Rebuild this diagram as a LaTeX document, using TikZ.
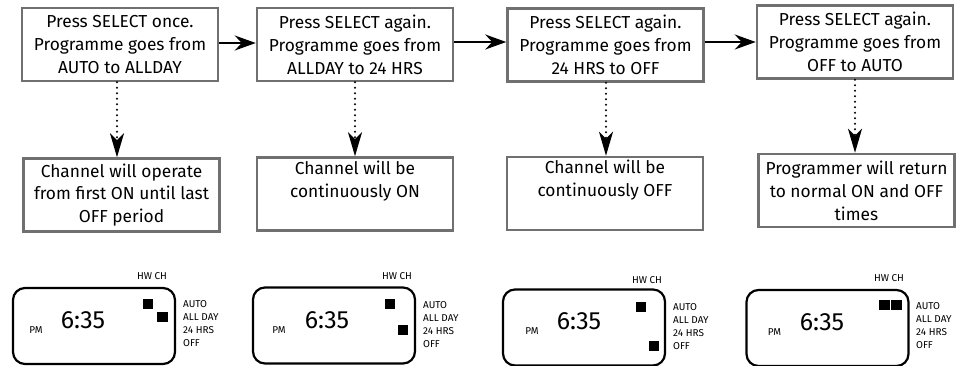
\documentclass[tikz,border=0pt]{standalone}
\usepackage{fontspec}
\setmainfont{Fira Sans}
\usetikzlibrary{arrows.meta}
\tikzset{%%
  >={Stealth[length=21bp,width=15bp,inset=7bp]},
  stepbox/.style={draw=boxGray, line width=2.5bp, minimum width=196bp,
    minimum height=73bp, inner sep=0pt, align=center,
    font=\fontsize{17.4}{23}\selectfont},
  lcd/.style={draw, line width=2.2bp, rounded corners=12bp,
    minimum width=162bp, minimum height=76bp},
  seg/.style={fill=black, minimum size=10.5bp, inner sep=0pt},
  small/.style={inner sep=0pt, anchor=west, font=\fontsize{10}{13}\selectfont},
  digits/.style={inner sep=0pt, font=\fontsize{25}{25}\selectfont},
  }
\definecolor{boxGray}{RGB}{112, 112, 112}

\begin{document}
\begin{tikzpicture}[x=1bp,y=-1bp]
  \useasboundingbox (0,0) rectangle (964,365);
  % what SELECT does
  \node[stepbox] (press1) at (120,44.5) {Press SELECT once.\\Programme goes from\\AUTO to ALLDAY};
  \node[stepbox] (press2) at (355,44.5) {Press SELECT again.\\Programme goes from\\ALLDAY to 24 HRS};
  \node[stepbox] (press3) at (605.5,45) {Press SELECT again.\\Programme goes from\\24 HRS to OFF};
  \node[stepbox] (press4) at (855,42) {Press SELECT again.\\Programme goes from\\OFF to AUTO};
  \node[stepbox] (chan1) at (121.5,195) {Channel will operate\\from first ON until last\\OFF period};
  \node[stepbox] (chan2) at (355,194) {Channel will be\\continuously ON\\\strut};
  \node[stepbox] (chan3) at (605,193.5) {Channel will be\\continuously OFF\\\strut};
  \node[stepbox] (chan4) at (856.5,190.5) {Programmer will return\\to normal ON and OFF\\times};
  \draw[->, line width=2.5bp] (press1.east |- 0,43) -- (press2.west |- 0,43);
  \draw[->, line width=2.5bp] (press2.east |- 0,42) -- (press3.west |- 0,42);
  \draw[->, line width=2.5bp] (press3.east |- 0,42) -- (press4.west |- 0,42);
  \draw[line width=2.2bp, line cap=round, dash pattern=on 0pt off 5.5bp,
    -{Stealth[length=24bp,width=14bp,inset=7bp]}] (press1.south -| 117,0) -- (chan1.north -| 117,0);
  \draw[line width=2.2bp, line cap=round, dash pattern=on 0pt off 5.5bp,
    -{Stealth[length=24bp,width=14bp,inset=7bp]}] (press2) -- (chan2);
  \draw[line width=2.2bp, line cap=round, dash pattern=on 0pt off 5.5bp,
    -{Stealth[length=24bp,width=14bp,inset=7bp]}] (press3.south -| 606,0) -- (chan3.north -| 606,0);
  \draw[line width=2.2bp, line cap=round, dash pattern=on 0pt off 5.5bp,
    -{Stealth[length=24bp,width=14bp,inset=7bp]}] (press4.south -| 855,0) -- (chan4.north -| 855,0);
  % the displays
  \node[lcd] (lcd1) at (94,326) {};
  \node[digits] (time1) at (83,320) {6:35};
  \node[small, anchor=center] (pm1) at (36,330) {PM};
  \node[small, anchor=center] (hwch1) at (152,276) {HW CH};
  \node[seg] (hw1) at (148,304) {};
  \node[seg] (ch1) at (162.5,317) {};
  \node[small] (auto1) at (183,304) {AUTO};
  \node[small] (allday1) at (183,317) {ALL DAY};
  \node[small] (hrs1) at (183,330) {24 HRS};
  \node[small] (off1) at (183,343) {OFF};

  \node[lcd] (lcd2) at (334,325.5) {};
  \node[digits] (time2) at (327,320) {6:35};
  \node[small, anchor=center] (pm2) at (279,330) {PM};
  \node[small, anchor=center] (hwch2) at (397,276) {HW CH};
  \node[seg] (hw2) at (390,304) {};
  \node[seg] (ch2) at (403,330) {};
  \node[small] (auto2) at (423,305) {AUTO};
  \node[small] (allday2) at (423,318) {ALL DAY};
  \node[small] (hrs2) at (423,331) {24 HRS};
  \node[small] (off2) at (423,344) {OFF};

  \node[lcd] (lcd3) at (584,327.5) {};
  \node[digits] (time3) at (579,321) {6:35};
  \node[small, anchor=center] (pm3) at (532,331) {PM};
  \node[small, anchor=center] (hwch3) at (647,280) {HW CH};
  \node[seg] (hw3) at (641,307) {};
  \node[seg] (ch3) at (654,346) {};
  \node[small] (auto3) at (673,307) {AUTO};
  \node[small] (allday3) at (673,320) {ALL DAY};
  \node[small] (hrs3) at (673,333) {24 HRS};
  \node[small] (off3) at (673,346) {OFF};

  \node[lcd] (lcd4) at (827.5,328) {};
  \node[digits] (time4) at (822,322) {6:35};
  \node[small, anchor=center] (pm4) at (774.5,332) {PM};
  \node[small, anchor=center] (hwch4) at (889,278) {HW CH};
  \node[seg] (hw4) at (884.5,305) {};
  \node[seg] (ch4) at (896.5,305) {};
  \node[small] (auto4) at (916,306) {AUTO};
  \node[small] (allday4) at (916,319) {ALL DAY};
  \node[small] (hrs4) at (916,332) {24 HRS};
  \node[small] (off4) at (916,345) {OFF};
\end{tikzpicture}
\end{document}
